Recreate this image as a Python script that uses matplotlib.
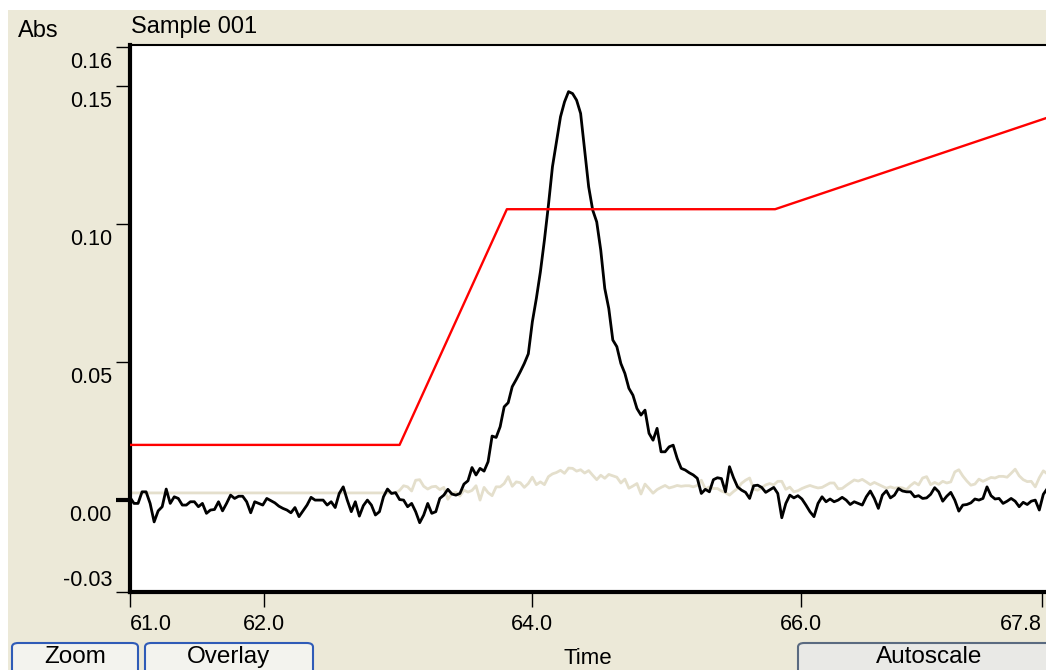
import numpy as np
import matplotlib.pyplot as plt
from matplotlib.patches import Rectangle, FancyBboxPatch

W, H = 1046, 670

# sampling of the detector trace (minutes)
t_start = 61.0
t_step = 0.03

# sample trace, milli-absorbance
sample_mau = [
    1.0, -1.2, -1.2, 3.0, 3.0, -1.2, -7.9, -3.9, -2.4, 4.0, -1.2, 1.2,
    0.6, -1.8, -1.8, -0.6, -0.6, -2.4, -1.2, -4.8, -3.6, -3.4, -0.6, -3.9,
    -1.2, 1.8, 0.6, 1.4, 1.4, -0.6, -4.6, -0.6, -1.2, -1.8, 0.6, -0.2,
    -1.0, -2.2, -3.0, -3.6, -4.6, -2.7, -6.0, -3.9, -1.8, 1.0, 0.0, 0.0,
    0.0, -1.8, -0.6, -2.7, 2.4, 4.8, 0.0, -4.2, -0.6, -5.8, -2.0, 0.0,
    -1.8, -5.4, -4.2, 1.2, 4.0, 2.4, 2.7, 0.2, 0.0, -2.4, -1.2, -4.2,
    -8.2, -5.4, -1.2, -4.8, -4.2, 0.6, 1.8, 3.9, 2.2, 1.8, 2.4, 5.8,
    7.0, 11.8, 9.1, 11.5, 10.5, 13.9, 23.2, 22.7, 26.6, 33.8, 35.3, 41.1,
    43.7, 46.5, 49.5, 53.0, 64.6, 73.1, 82.7, 94.2, 106.9, 120.8, 129.8, 138.9,
    144.3, 148.0, 147.3, 144.9, 140.1, 126.8, 113.5, 105.1, 100.8, 90.6, 76.7, 69.4,
    58.0, 55.6, 49.5, 45.9, 40.5, 38.0, 33.2, 30.8, 32.6, 24.2, 21.7, 26.0,
    17.5, 17.5, 19.3, 19.9, 15.1, 11.5, 10.9, 9.9, 9.1, 7.9, 2.4, 3.9,
    3.0, 7.4, 8.1, 7.8, 3.0, 12.1, 8.1, 4.8, 3.6, 2.8, 0.6, 5.2,
    5.4, 4.6, 2.8, 3.7, 4.6, 2.4, -6.4, -1.2, 1.8, 0.8, 1.6, 0.4,
    -1.8, -4.2, -6.0, -1.2, 1.2, -0.6, 0.4, -0.6, 0.0, 1.0, 0.0, -1.6,
    -0.6, -1.2, -1.8, 1.2, 3.3, 0.6, -3.0, 1.8, 3.4, 0.8, 1.8, 4.2,
    3.3, 3.0, 3.0, 1.2, 1.6, 0.6, 0.8, 2.1, 4.5, 3.0, -0.4, 1.4,
    2.8, 0.0, -4.0, -1.8, -1.6, -1.0, 0.4, 0.0, 0.6, 4.8, 1.6, 0.4,
    0.6, -1.2, -0.4, 0.6, -0.4, -2.4, -0.8, -1.6, -0.4, 0.0, -3.6, 2.1,
    4.2,
]

# blank / reference trace, milli-absorbance
blank_mau = [
    2.6, 2.6, 2.6, 2.6, 2.6, 2.6, 2.6, 2.6, 2.6, 2.6, 2.6, 2.6,
    2.6, 2.6, 2.6, 2.6, 2.6, 2.6, 2.6, 2.6, 2.6, 2.6, 2.6, 2.6,
    2.6, 2.6, 2.6, 2.6, 2.6, 2.6, 2.6, 2.6, 2.6, 2.6, 2.6, 2.6,
    2.6, 2.6, 2.6, 2.6, 2.6, 2.6, 2.6, 2.6, 2.6, 2.6, 2.6, 2.6,
    2.6, 2.6, 2.6, 2.6, 2.6, 2.6, 2.6, 2.6, 2.6, 2.6, 2.6, 2.6,
    2.6, 2.6, 2.6, 2.6, 2.6, 2.6, 2.6, 3.5, 5.2, 4.8, 3.3, 7.2,
    7.4, 5.0, 4.0, 4.8, 5.0, 3.8, 4.6, 0.3, 2.4, 2.8, 1.5, 3.6,
    2.9, 3.5, 5.2, 0.0, 4.6, 2.7, 1.6, 4.8, 4.8, 6.0, 8.5, 5.0,
    6.6, 6.3, 4.6, 6.0, 8.3, 5.6, 6.6, 5.6, 8.5, 9.5, 10.0, 10.8,
    9.7, 11.6, 11.5, 10.5, 11.0, 9.8, 10.7, 9.0, 7.4, 9.0, 7.9, 9.3,
    8.8, 8.3, 6.2, 7.6, 4.3, 5.1, 6.0, 2.2, 5.8, 4.2, 2.5, 3.8,
    4.6, 5.3, 4.4, 4.8, 5.3, 5.0, 5.2, 5.2, 4.8, 5.3, 7.2, 4.0,
    4.8, 4.2, 4.2, 3.3, 2.7, 1.8, 3.1, 4.2, 6.1, 7.2, 8.0, 4.0,
    3.6, 4.5, 5.5, 6.0, 5.5, 6.8, 6.8, 3.9, 4.7, 3.0, 3.4, 4.2,
    4.8, 5.3, 4.8, 4.4, 4.6, 5.4, 6.2, 6.2, 4.1, 4.2, 5.3, 6.3,
    7.3, 6.9, 7.5, 6.6, 5.6, 6.4, 5.7, 5.0, 4.3, 4.8, 4.3, 4.6,
    4.4, 3.8, 5.3, 6.4, 5.5, 8.0, 8.5, 5.6, 6.4, 5.7, 6.8, 6.2,
    6.6, 10.2, 11.0, 8.7, 6.9, 5.4, 5.8, 7.6, 6.8, 7.5, 8.2, 8.0,
    8.6, 8.6, 8.3, 9.7, 11.2, 8.8, 7.4, 6.7, 6.8, 4.8, 8.1, 10.6,
    9.5,
]

# solvent gradient profile (red)
gradient_time = [61.0, 63.01, 63.81, 65.81, 67.83]
gradient_abs = [0.020, 0.020, 0.1054, 0.1054, 0.1384]

x_limits = (61.0, 67.83)
y_limits = (-0.0333, 0.1649)
xtick_vals = [61.0, 62.0, 64.0, 66.0, 67.8]
xtick_labels = ["61.0", "62.0", "64.0", "66.0", "67.8"]
ytick_vals = [-0.0333, 0.0, 0.05, 0.10, 0.15, 0.1641]
ytick_labels = ["-0.03", "0.00", "0.05", "0.10", "0.15", "0.16"]

plt.rcParams["font.family"] = ["Liberation Sans", "DejaVu Sans"]

fig = plt.figure(figsize=(W / 100, H / 100), dpi=100)
fig.patch.set_facecolor("white")
# window background (XP beige)
fig.patches.append(Rectangle((8 / W, 0), 1, (H - 10) / H, transform=fig.transFigure,
                             facecolor="#ECE9D8", edgecolor="none", zorder=-5))

ax = fig.add_axes([130 / W, 78 / H, 916 / W, 547 / H])
ax.set_facecolor("white")

time = t_start + t_step * np.arange(len(sample_mau))
ax.plot(time, np.array(blank_mau) / 1000, color="#E4DFCC", lw=2.0, zorder=2)
ax.plot(time, np.array(sample_mau) / 1000, color="black", lw=2.0, zorder=3)
ax.plot(gradient_time, gradient_abs, color="#FF0000", lw=1.7, zorder=4)

ax.set_xlim(*x_limits)
ax.set_ylim(*y_limits)

# frame: thick left/bottom, thin top, no right
ax.spines["right"].set_visible(False)
ax.spines["top"].set_linewidth(1.5)
ax.spines["left"].set_linewidth(3)
ax.spines["bottom"].set_linewidth(3)

ax.set_xticks(xtick_vals)
ax.set_yticks(ytick_vals)
ax.tick_params(axis="y", direction="out", length=10, width=1, labelleft=False)
ax.tick_params(axis="x", direction="out", length=11, width=1, labelbottom=False)
ax.yaxis.get_major_ticks()[1].tick1line.set_markeredgewidth(3)

tick_font = dict(fontsize=15.5, color="black")
for v, lab in zip(ytick_vals, ytick_labels):
    if lab == "-0.03":
        ax.annotate(lab, xy=(0, v), xycoords=("axes fraction", "data"),
                    xytext=(-18, 1), textcoords="offset pixels",
                    ha="right", va="bottom", **tick_font)
    else:
        ax.annotate(lab, xy=(0, v), xycoords=("axes fraction", "data"),
                    xytext=(-18, -5), textcoords="offset pixels",
                    ha="right", va="top", **tick_font)

for i, (v, lab) in enumerate(zip(xtick_vals, xtick_labels)):
    ha = "left" if i == 0 else ("right" if i == len(xtick_vals) - 1 else "center")
    ax.annotate(lab, xy=(v, 0), xycoords=("data", "axes fraction"),
                xytext=(0, -22), textcoords="offset pixels",
                ha=ha, va="top", **tick_font)

fig.text(18 / W, 1 - 31 / H, "Abs", ha="left", va="center", fontsize=17)
fig.text(131 / W, 1 - 27 / H, "Sample 001", ha="left", va="center", fontsize=17)
fig.text(588 / W, 1 - 659 / H, "Time", ha="center", va="center", fontsize=16)


def button(x0, x1, label, edge, face):
    box = FancyBboxPatch((x0 / W, (H - 676) / H), (x1 - x0) / W, 33 / H,
                         boxstyle="round,pad=0,rounding_size=0.006",
                         transform=fig.transFigure, facecolor=face,
                         edgecolor=edge, linewidth=1.5, zorder=5)
    fig.patches.append(box)
    fig.text((x0 + x1) / 2 / W, 1 - 657 / H, label, ha="center", va="center",
             fontsize=17.5, zorder=6)


button(12, 138, "Zoom", "#2F5BB7", "#F3F3EE")
button(145, 313, "Overlay", "#2F5BB7", "#F3F3EE")
button(798, 1060, "Autoscale", "#5A6A80", "#E9E9E6")

fig.savefig("out.png", dpi=100)
